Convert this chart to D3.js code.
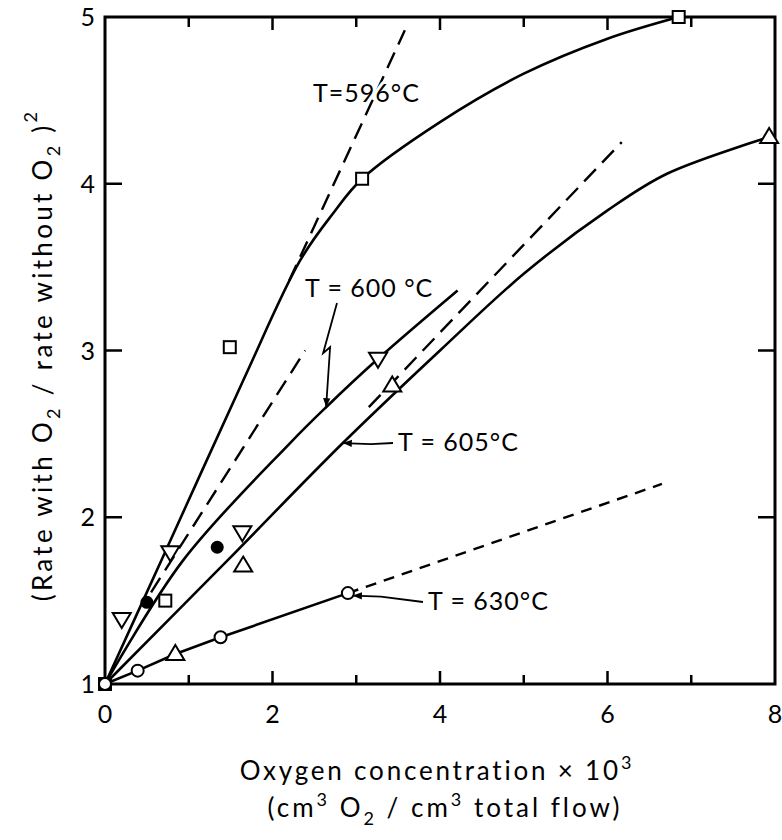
<!DOCTYPE html>
<html>
<head>
<meta charset="utf-8">
<script src="https://cdn.jsdelivr.net/npm/d3@7"></script>
<style>
  body { margin: 0; background: white; }
  text { font-family: "Lato", "DejaVu Sans", sans-serif; fill: black; }
</style>
</head>
<body>
<div id="mydiv"></div>
<script>
// ---- data ----
var xTicks = [0, 2, 4, 6, 8];
var yTicks = [1, 2, 3, 4, 5];

// measured points
var squares596 = [[0, 1], [0.72, 1.5], [1.49, 3.02], [3.07, 4.03], [6.85, 5.0]];
var downTri600 = [[0.2, 1.39], [0.78, 1.79], [1.64, 1.91], [3.26, 2.95]];
var upTri605 = [[0.84, 1.18], [1.65, 1.71], [3.43, 2.79], [7.93, 4.28]];
var circles630 = [[0, 1], [0.39, 1.08], [1.38, 1.28], [2.9, 1.545]];
var filledPts = [[0.5, 1.49], [1.34, 1.82]];

// fitted curves
var curve596 = [[0, 1], [0.69, 1.76], [1.65, 2.82], [2.33, 3.54], [2.72, 3.82], [3.07, 4.03], [4.0, 4.37], [5.0, 4.66], [6.0, 4.87], [6.85, 5.0]];
var curve600 = [[0, 1], [0.93, 1.74], [2.21, 2.445], [2.64, 2.66], [3.26, 2.95], [4.21, 3.36]];
var curve605 = [[0, 1], [1.46, 1.74], [2.84, 2.445], [4.0, 3.0], [5.0, 3.46], [6.0, 3.84], [6.71, 4.06], [7.93, 4.28]];
var curve630 = [[0, 1], [0.39, 1.08], [0.84, 1.18], [1.38, 1.28], [2.9, 1.545]];

// initial slope (dashed) lines
var dash596 = [[2.2, 3.42], [3.58, 4.92]];
var dash600 = [[0.55, 1.55], [2.39, 3.0]];
var dash605 = [[3.15, 2.66], [6.17, 4.25]];
var dash630 = [[2.9, 1.545], [6.65, 2.2]];

// labels: tip = data point the arrow hits
var labels = [
  {text: "T=596°C", x: 313, y: 102, arrow: null},
  {text: "T = 600 °C", x: 305, y: 297, arrow: "zig", tip: [2.64, 2.66]},
  {text: "T = 605°C", x: 398, y: 451, arrow: "left", tip: [2.84, 2.445]},
  {text: "T = 630°C", x: 428, y: 610, arrow: "left", tip: [2.96, 1.53]}
];

var W = 782, H = 840;
var margin = {top: 17, right: 7, bottom: 156, left: 105};
var width = W - margin.left - margin.right,
    height = H - margin.top - margin.bottom;

var x = d3.scaleLinear().domain([0, 8]).range([0, width]);
var y = d3.scaleLinear().domain([1, 5]).range([height, 0]);

var root = d3.select("#mydiv").append("svg")
  .attr("width", W).attr("height", H)
  .style("background-color", "white");

var defs = root.append("defs");
defs.append("marker")
  .attr("id", "arrowhead")
  .attr("viewBox", "0 0 10 10")
  .attr("refX", 10).attr("refY", 5)
  .attr("markerWidth", 9).attr("markerHeight", 9)
  .attr("markerUnits", "userSpaceOnUse")
  .attr("orient", "auto")
  .append("path").attr("d", "M0,1 L10,5 L0,9 Z").attr("fill", "black");

var svg = root.append("g")
  .attr("transform", "translate(" + margin.left + "," + margin.top + ")");

var line = d3.line().x(function(d) { return x(d[0]); }).y(function(d) { return y(d[1]); });
var smooth = d3.line().curve(d3.curveCatmullRom.alpha(0.5))
  .x(function(d) { return x(d[0]); }).y(function(d) { return y(d[1]); });

// solid curves
[curve596, curve600, curve605].forEach(function(c) {
  svg.append("path").attr("d", smooth(c))
    .attr("fill", "none").attr("stroke", "black").attr("stroke-width", 2.6);
});
svg.append("path").attr("d", line(curve630))
  .attr("fill", "none").attr("stroke", "black").attr("stroke-width", 2.6);

// dashed lines
[dash596, dash600, dash605].forEach(function(c) {
  svg.append("path").attr("d", line(c))
    .attr("fill", "none").attr("stroke", "black").attr("stroke-width", 2.4)
    .attr("stroke-dasharray", "17,9");
});
svg.append("path").attr("d", line(dash630))
  .attr("fill", "none").attr("stroke", "black").attr("stroke-width", 2.4)
  .attr("stroke-dasharray", "11,8");

// frame
svg.append("rect").attr("x", 0).attr("y", 0).attr("width", width).attr("height", height)
  .attr("fill", "none").attr("stroke", "black").attr("stroke-width", 3);

// ticks (inward), bottom + top
var xMinor = d3.range(1, 8);
svg.selectAll(".xtick-b").data(xMinor).enter().append("line")
  .attr("x1", function(d) { return x(d); }).attr("x2", function(d) { return x(d); })
  .attr("y1", height).attr("y2", function(d) { return height - (d % 2 == 0 ? 13 : 9); })
  .attr("stroke", "black").attr("stroke-width", 2.5);
svg.selectAll(".xtick-t").data(xMinor).enter().append("line")
  .attr("x1", function(d) { return x(d); }).attr("x2", function(d) { return x(d); })
  .attr("y1", 0).attr("y2", function(d) { return (d % 2 == 0 ? 13 : 10); })
  .attr("stroke", "black").attr("stroke-width", 2.5);
var yInner = [2, 3, 4];
svg.selectAll(".ytick-l").data(yInner).enter().append("line")
  .attr("x1", 0).attr("x2", 17)
  .attr("y1", function(d) { return y(d); }).attr("y2", function(d) { return y(d); })
  .attr("stroke", "black").attr("stroke-width", 2.5);
svg.selectAll(".ytick-r").data(yInner).enter().append("line")
  .attr("x1", width).attr("x2", width - 17)
  .attr("y1", function(d) { return y(d); }).attr("y2", function(d) { return y(d); })
  .attr("stroke", "black").attr("stroke-width", 2.5);

// tick labels
svg.selectAll(".xlab").data(xTicks).enter().append("text")
  .attr("x", function(d) { return x(d); }).attr("y", height + 39)
  .attr("text-anchor", "middle").style("font-size", "25px")
  .text(function(d) { return d; });
svg.selectAll(".ylab").data(yTicks).enter().append("text")
  .attr("x", -10).attr("y", function(d) { return y(d) + 9; })
  .attr("text-anchor", "end").style("font-size", "25px")
  .text(function(d) { return d; });

// markers
function drawMarkers(data, kind) {
  var g = svg.append("g");
  data.forEach(function(d) {
    var cx = x(d[0]), cy = y(d[1]);
    if (kind == "square") {
      g.append("rect").attr("x", cx - 6).attr("y", cy - 6).attr("width", 12).attr("height", 12)
        .attr("fill", "white").attr("stroke", "black").attr("stroke-width", 2);
    } else if (kind == "circle") {
      g.append("circle").attr("cx", cx).attr("cy", cy).attr("r", 6)
        .attr("fill", "white").attr("stroke", "black").attr("stroke-width", 2);
    } else if (kind == "filled") {
      g.append("circle").attr("cx", cx).attr("cy", cy).attr("r", 6.5).attr("fill", "black");
    } else if (kind == "up") {
      g.append("path").attr("d", "M" + cx + "," + (cy - 9) + "L" + (cx + 9) + "," + (cy + 6) + "L" + (cx - 9) + "," + (cy + 6) + "Z")
        .attr("fill", "white").attr("stroke", "black").attr("stroke-width", 2);
    } else if (kind == "down") {
      g.append("path").attr("d", "M" + cx + "," + (cy + 9) + "L" + (cx + 9) + "," + (cy - 6) + "L" + (cx - 9) + "," + (cy - 6) + "Z")
        .attr("fill", "white").attr("stroke", "black").attr("stroke-width", 2);
    }
  });
}
drawMarkers(squares596, "square");
drawMarkers(downTri600, "down");
drawMarkers(upTri605, "up");
drawMarkers(circles630, "circle");
drawMarkers(filledPts, "filled");

// curve labels with arrows (label positions are page coords)
labels.forEach(function(l) {
  root.append("text").attr("x", l.x).attr("y", l.y)
    .style("font-size", "25px").style("letter-spacing", "1px")
    .style("paint-order", "stroke").style("stroke", "white").style("stroke-width", "6px")
    .text(l.text);
  if (!l.tip) return;
  var tx = margin.left + x(l.tip[0]), ty = margin.top + y(l.tip[1]);
  var p;
  if (l.arrow == "zig") {
    p = "M" + (l.x + 32) + "," + (l.y + 6) + " L" + (tx - 3) + "," + (ty - 54) +
        " L" + (tx + 4) + "," + (ty - 60) + " L" + tx + "," + ty;
  } else {
    p = "M" + (l.x - 5) + "," + (l.y - 8) + " L" + (tx + 28) + "," + (ty + 1) + " L" + tx + "," + ty;
  }
  root.append("path").attr("d", p).attr("fill", "none")
    .attr("stroke", "black").attr("stroke-width", 1.8)
    .attr("marker-end", "url(#arrowhead)");
});

// axis titles
var xt = root.append("text").attr("x", 437).attr("y", 780)
  .attr("text-anchor", "middle").style("font-size", "26px").style("letter-spacing", "2.8px");
xt.append("tspan").text("Oxygen  concentration  × 10");
xt.append("tspan").attr("dy", -11).style("font-size", "18px").text("3");

var xt2 = root.append("text").attr("x", 445).attr("y", 817)
  .attr("text-anchor", "middle").style("font-size", "26px").style("letter-spacing", "3px");
xt2.append("tspan").text("(cm");
xt2.append("tspan").attr("dy", -11).style("font-size", "18px").text("3");
xt2.append("tspan").attr("dy", 11).text(" O");
xt2.append("tspan").attr("dy", 8).style("font-size", "18px").text("2");
xt2.append("tspan").attr("dy", -8).text(" / cm");
xt2.append("tspan").attr("dy", -11).style("font-size", "18px").text("3");
xt2.append("tspan").attr("dy", 11).text("  total flow)");

var yt = root.append("text")
  .attr("transform", "translate(52,355) rotate(-90)")
  .attr("text-anchor", "middle").style("font-size", "26px").style("letter-spacing", "3.3px");
yt.append("tspan").text("(Rate with O");
yt.append("tspan").attr("dy", 8).style("font-size", "18px").text("2");
yt.append("tspan").attr("dy", -8).text(" / rate without O");
yt.append("tspan").attr("dy", 8).style("font-size", "18px").text("2");
yt.append("tspan").attr("dy", -8).text(" )");
yt.append("tspan").attr("dy", -15).style("font-size", "18px").text("2");
</script>
</body>
</html>
